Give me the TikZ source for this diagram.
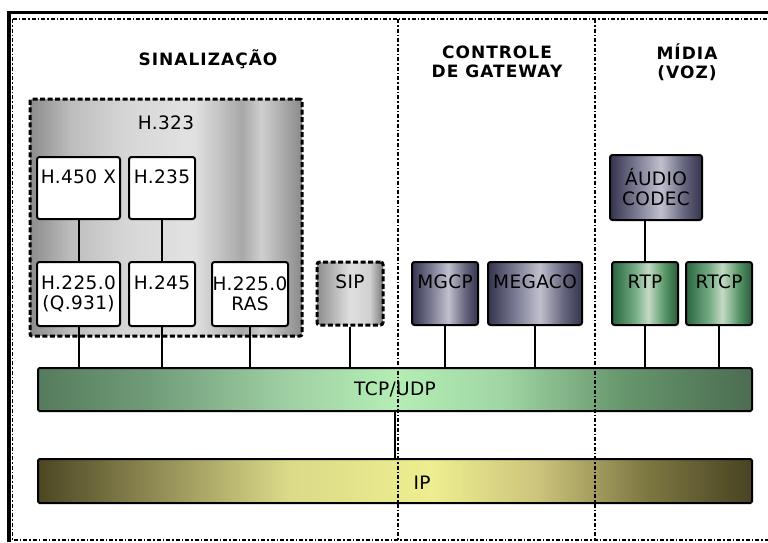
\documentclass[tikz,border=0pt]{standalone}
\usepackage{fontspec}
\setmainfont{DejaVu Sans}
\newfontfamily\boxfont[LetterSpace=2]{DejaVu Sans}
\newfontfamily\titlefont[LetterSpace=6]{DejaVu Sans}
% gray (H.323 group)
\definecolor{gA}{HTML}{8C8C8C}\definecolor{gB}{HTML}{BDBDBD}\definecolor{gC}{HTML}{D6D6D6}
\definecolor{gD}{HTML}{E2E2E2}\definecolor{gE}{HTML}{A8A8A8}\definecolor{gF}{HTML}{CFCFCF}\definecolor{gG}{HTML}{8A8A8A}
% SIP
\definecolor{sA}{HTML}{8E8E8E}\definecolor{sB}{HTML}{E0E0E0}\definecolor{sC}{HTML}{D0D0D0}\definecolor{sD}{HTML}{7A7A7A}
% slate
\definecolor{bA}{HTML}{34344F}\definecolor{bB}{HTML}{7E7E96}\definecolor{bC}{HTML}{C0C0CE}\definecolor{bD}{HTML}{66667E}\definecolor{bE}{HTML}{34344E}
% green boxes
\definecolor{rA}{HTML}{2A6640}\definecolor{rB}{HTML}{74AC84}\definecolor{rC}{HTML}{C4DAC4}\definecolor{rD}{HTML}{569666}\definecolor{rE}{HTML}{2A5C3C}
% TCP/UDP
\definecolor{tA}{HTML}{557C5C}\definecolor{tB}{HTML}{6F9A78}\definecolor{tC}{HTML}{9FD0A4}\definecolor{tD}{HTML}{B4EEB4}
\definecolor{tE}{HTML}{A0D6A4}\definecolor{tF}{HTML}{66966C}\definecolor{tG}{HTML}{4C6C52}
% IP
\definecolor{iA}{HTML}{4C4722}\definecolor{iB}{HTML}{8A8550}\definecolor{iC}{HTML}{DADA88}\definecolor{iD}{HTML}{EEEE90}
\definecolor{iE}{HTML}{CCC47C}\definecolor{iF}{HTML}{7E7842}\definecolor{iG}{HTML}{484322}
\pgfdeclarehorizontalshading{shgroup}{100bp}{color(0bp)=(gA);color(25bp)=(gA);color(32.5bp)=(gB);color(42.5bp)=(gC);color(55bp)=(gD);color(64bp)=(gE);color(67.5bp)=(gF);color(75bp)=(gG);color(100bp)=(gG)}
\pgfdeclarehorizontalshading{shsip}{100bp}{color(0bp)=(sA);color(25bp)=(sA);color(50bp)=(sB);color(65bp)=(sC);color(75bp)=(sD);color(100bp)=(sD)}
\pgfdeclarehorizontalshading{shslate}{100bp}{color(0bp)=(bA);color(25bp)=(bA);color(40bp)=(bB);color(52.5bp)=(bC);color(65bp)=(bD);color(75bp)=(bE);color(100bp)=(bE)}
\pgfdeclarehorizontalshading{shgreen}{100bp}{color(0bp)=(rA);color(25bp)=(rA);color(42.5bp)=(rB);color(52.5bp)=(rC);color(65bp)=(rD);color(75bp)=(rE);color(100bp)=(rE)}
\pgfdeclarehorizontalshading{shtcp}{100bp}{color(0bp)=(tA);color(25bp)=(tA);color(32.5bp)=(tB);color(42.5bp)=(tC);color(50bp)=(tD);color(57.5bp)=(tE);color(66bp)=(tF);color(75bp)=(tG);color(100bp)=(tG)}
\pgfdeclarehorizontalshading{ship}{100bp}{color(0bp)=(iA);color(25bp)=(iA);color(32.5bp)=(iB);color(42.5bp)=(iC);color(52.5bp)=(iD);color(60bp)=(iE);color(67.5bp)=(iF);color(75bp)=(iG);color(100bp)=(iG)}
\begin{document}
\begin{tikzpicture}[x=1pt,y=-1pt,
  boxtxt/.style={font=\boxfont\fontsize{18.5}{20}\selectfont},
  box/.style={boxtxt, draw=black, line width=2pt, rounded corners=2.5pt, fill=white, inner sep=0pt, align=center},
  shbox/.style={boxtxt, draw=black, line width=2pt, rounded corners=2.5pt, inner sep=0pt, align=center},
  groupbox/.style={draw=black, line width=3pt, dash pattern=on 5pt off 2.5pt, rounded corners=2pt, shading=shgroup, inner sep=0pt},
  bar/.style={boxtxt, draw=black, line width=2pt, rounded corners=1.5pt, inner sep=0pt},
  titletxt/.style={font=\titlefont\bfseries\fontsize{17}{19}\selectfont, align=center, inner sep=0pt},
  link/.style={draw=black, line width=2pt},
  divider/.style={draw=black, line width=1.8pt, dash pattern=on 4pt off 2pt on 1.5pt off 2pt},
  framedash/.style={draw=black, line width=1.5pt, dash pattern=on 4pt off 2pt on 1.5pt off 2pt}
]
\useasboundingbox (0,0) rectangle (768,542);
\fill[white] (0,0) rectangle (768,542);

% frame
\draw[framedash] (12.5,19) -- (768,19);
\draw[framedash] (12.5,19) -- (12.5,540) -- (768,540);
\draw[line width=3.5pt] (7,12.5) -- (768,12.5);
\draw[line width=4pt] (9,11) -- (9,542);

% titles
\node[titletxt, anchor=base] (tsin) at (208,65) {SINALIZAÇÃO};
\node[titletxt] (tctl) at (497,62) {CONTROLE\\DE GATEWAY};
\node[titletxt] (tmid) at (687,62) {MÍDIA\\(VOZ)};

% H.323 group
\node[groupbox, minimum width=272pt, minimum height=237pt] (h323) at (166,217.5) {};
\node[boxtxt, inner sep=0pt] (h323t) at (166,123) {H.323};

\node[box, minimum width=83pt, minimum height=62pt] (h450) at (78.5,188) {H.450 X\\[-3pt]\strut};
\node[box, minimum width=66pt, minimum height=62pt] (h235) at (162,188) {H.235\\[-3pt]\strut};
\node[box, minimum width=83pt, minimum height=64pt] (q931) at (78.5,294) {H.225.0\\(Q.931)};
\node[box, minimum width=66pt, minimum height=64pt] (h245) at (162,294) {H.245\\[-3pt]\strut};
\node[box, minimum width=76pt, minimum height=64pt] (ras) at (250,294) {H.225.0\\RAS};

\node[shbox, shading=shsip, dash pattern=on 5pt off 2.5pt, line width=3pt, minimum width=66pt, minimum height=63pt] (sip) at (350,293.5) {SIP\\[-3pt]\strut};
\node[shbox, shading=shslate, minimum width=66pt, minimum height=63pt] (mgcp) at (445,293.5) {MGCP\\[-3pt]\strut};
\node[shbox, shading=shslate, minimum width=94pt, minimum height=63pt] (megaco) at (535,293.5) {MEGACO\\[-3pt]\strut};
\node[shbox, shading=shslate, minimum width=92pt, minimum height=65pt] (audio) at (656,187.5) {ÁUDIO\\CODEC};
\node[shbox, shading=shgreen, minimum width=66pt, minimum height=63pt] (rtp) at (645,293.5) {RTP\\[-3pt]\strut};
\node[shbox, shading=shgreen, minimum width=66pt, minimum height=63pt] (rtcp) at (719,293.5) {RTCP\\[-3pt]\strut};

% bars
\node[bar, shading=shtcp, minimum width=714pt, minimum height=43pt] (tcp) at (395,389.5) {TCP/UDP};
\node[bar, shading=ship, minimum width=714pt, minimum height=44pt,
      label={[boxtxt, inner sep=0pt, xshift=27pt, yshift=-2pt]center:IP}] (ip) at (395,481) {};

% connectors
\draw[link] (h450.south) -- (q931.north);
\draw[link] (h235.south) -- (h245.north);
\draw[link] (audio.south -| rtp.north) -- (rtp.north);
\foreach \n in {q931,h245,ras,sip,mgcp,megaco,rtp,rtcp}
  \draw[link] (\n.south) -- (\n.south |- tcp.north);
\draw[link] (tcp.south) -- (tcp.south |- ip.north);

% dividers
\draw[divider] (398,19) -- (398,540);
\draw[divider] (595,19) -- (595,540);
\end{tikzpicture}
\end{document}
